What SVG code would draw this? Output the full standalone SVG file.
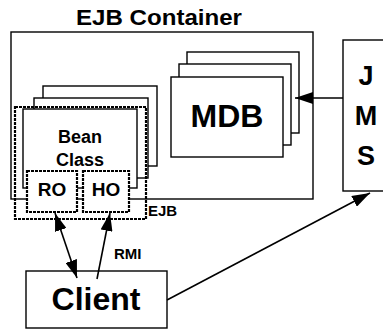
<svg xmlns="http://www.w3.org/2000/svg" width="383" height="329" viewBox="0 0 383 329">
  <style>
    .box { fill: #fff; stroke: #000; stroke-width: 1.4; }
    .frame { fill: none; stroke: #000; stroke-width: 1.4; }
    .dash { fill: none; stroke: #000; stroke-width: 2.2; stroke-dasharray: 3 1; }
    .dashbox { fill: #fff; stroke: #000; stroke-width: 2.2; stroke-dasharray: 3 1; }
    .t { font-family: "Liberation Sans", Arial, sans-serif; font-weight: bold; fill: #000; text-anchor: middle; }
    .lbl { font-family: "Liberation Sans", Arial, sans-serif; font-weight: bold; fill: #000; }
    .conn { fill: none; stroke: #000; stroke-width: 1.6; }
  </style>
  <defs>
    <marker id="head" viewBox="0 0 18 12" refX="18" refY="6" markerWidth="18" markerHeight="12" markerUnits="userSpaceOnUse" orient="auto-start-reverse">
      <path d="M0,0 L18,6 L0,12 Z" fill="#000"/>
    </marker>
  </defs>

  <rect width="383" height="329" fill="#fff"/>

  <!-- EJB container frame and title -->
  <g id="container">
    <rect class="frame" x="11" y="32" width="302" height="167"/>
    <text class="t" x="159" y="25" font-size="22" textLength="166" lengthAdjust="spacingAndGlyphs">EJB Container</text>
  </g>

  <!-- Message-driven bean stack -->
  <g id="mdb">
    <rect class="box" x="187" y="52" width="112" height="81"/>
    <rect class="box" x="179" y="64" width="112" height="81"/>
    <rect class="box" x="171" y="77" width="112" height="80"/>
    <text class="t" x="227" y="127" font-size="32">MDB</text>
  </g>

  <!-- JMS provider -->
  <g id="jms">
    <rect class="box" x="343" y="40" width="50" height="151"/>
    <text class="t" x="366" y="85" font-size="27">J</text>
    <text class="t" x="366" y="125" font-size="27">M</text>
    <text class="t" x="366" y="165" font-size="27">S</text>
  </g>

  <!-- Bean class stack inside the EJB boundary -->
  <g id="bean">
    <rect class="box" x="43" y="86" width="114" height="80"/>
    <rect class="box" x="34" y="98" width="114" height="80"/>
    <rect class="box" x="23" y="109" width="114" height="79"/>
    <text class="t" x="80" y="143" font-size="18">Bean</text>
    <text class="t" x="80" y="166" font-size="18">Class</text>
  </g>

  <g id="ejb">
    <rect class="dash" x="15" y="107" width="131" height="112"/>
    <text class="lbl" x="148" y="216" font-size="15">EJB</text>
  </g>

  <g id="ro">
    <rect class="dashbox" x="27" y="171" width="50" height="41"/>
    <text class="t" x="52" y="196" font-size="19">RO</text>
  </g>

  <g id="ho">
    <rect class="dashbox" x="83" y="171" width="46" height="41"/>
    <text class="t" x="106" y="196" font-size="19">HO</text>
  </g>

  <g id="client">
    <rect class="box" x="26" y="271" width="141" height="57"/>
    <text class="t" x="96" y="310" font-size="32">Client</text>
  </g>

  <!-- Connectors -->
  <g id="connectors">
    <line class="conn" x1="343" y1="98" x2="295" y2="98" marker-end="url(#head)"/>
    <line class="conn" x1="55" y1="213" x2="77" y2="278" marker-start="url(#head)" marker-end="url(#head)"/>
    <line class="conn" x1="97" y1="279" x2="110" y2="213" marker-end="url(#head)"/>
    <line class="conn" x1="167" y1="300" x2="370" y2="193" marker-end="url(#head)"/>
    <text class="lbl" x="114" y="259" font-size="15">RMI</text>
  </g>
</svg>
